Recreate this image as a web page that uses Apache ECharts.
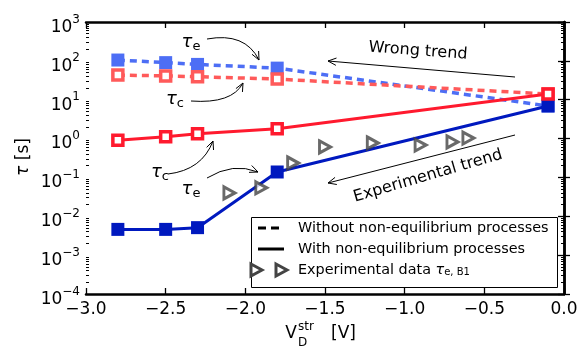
<!DOCTYPE html>
<html>
<head>
<meta charset="utf-8">
<script src="https://cdn.jsdelivr.net/npm/echarts@6/dist/echarts.min.js"></script>
<style>html,body{margin:0;padding:0;background:#fff}#c{width:578px;height:351px}</style>
</head>
<body>
<div id="c"></div>
<script>
// ---- data ----
const xs = [-2.8, -2.5, -2.3, -1.8, -0.1];
const tauE_without = [105, 90, 81, 65, 6.9];
const tauC_without = [43, 41, 39, 34, 14];
const tauC_with = [0.90, 1.12, 1.34, 1.8, 14];
const tauE_with = [0.0046, 0.0046, 0.0051, 0.138, 6.9];
const expX = [-2.1, -1.9, -1.7, -1.5, -1.2, -0.9, -0.7, -0.6];
const expY = [0.040, 0.054, 0.235, 0.61, 0.77, 0.68, 0.82, 1.03];
const xTickValues = [-3.0, -2.5, -2.0, -1.5, -1.0, -0.5, 0.0];
const yTickExps = [-4, -3, -2, -1, 0, 1, 2, 3];

const FONT = 'DejaVu Sans';
const pair = (a, b) => a.map((v, i) => [v, b[i]]);
const yMajor = yTickExps.map(e => Math.pow(10, e));
const yMinor = [];
for (let e = -4; e < 3; e++) for (let m = 2; m <= 9; m++) yMinor.push(m * Math.pow(10, e));

const C_BLUE_L = '#4d6ef5', C_RED_L = '#ff5a5a', C_RED = '#ff1a2e', C_BLUE = '#0019bf', C_GRAY = '#444444';
const tri = 'path://M0,0 L10,5 L0,10 Z';

function baseY(pos, opts) {
  return Object.assign({
    type: 'log', logBase: 10, min: 1e-4, max: 1e3, position: pos,
    axisLine: { show: true, lineStyle: { color: '#000', width: 2.5 } },
    axisTick: { show: true, inside: true, length: 6, lineStyle: { color: '#000', width: 1.3 }, customValues: yMajor },
    axisLabel: { show: false },
    splitLine: { show: false }, minorTick: { show: false }
  }, opts);
}
function minorY(pos) {
  return {
    type: 'log', logBase: 10, min: 1e-4, max: 1e3, position: pos,
    axisLine: { show: false },
    axisTick: { show: true, inside: true, length: 3, lineStyle: { color: '#000', width: 1 }, customValues: yMinor },
    axisLabel: { show: false }, splitLine: { show: false }
  };
}
function baseX(pos, labels) {
  return {
    type: 'value', min: -3, max: 0, interval: 0.5, position: pos,
    axisLine: { show: true, onZero: false, lineStyle: { color: '#000', width: 2.5 } },
    axisTick: { show: true, inside: true, length: 6, lineStyle: { color: '#000', width: 1.3 } },
    axisLabel: labels ? {
      show: true, margin: 7, fontFamily: FONT, fontSize: 17, color: '#000',
      customValues: xTickValues,
      formatter: v => (v < 0 ? '\u2212' : '') + Math.abs(v).toFixed(1)
    } : { show: false },
    splitLine: { show: false }
  };
}

function arrowHead(x, y, fx, fy) {
  const a = Math.atan2(y - fy, x - fx), L = 9, w = 0.42;
  return { type: 'polyline', z: 100, shape: { points: [[x - L * Math.cos(a - w), y - L * Math.sin(a - w)], [x, y], [x - L * Math.cos(a + w), y - L * Math.sin(a + w)]] },
    style: { stroke: '#000', lineWidth: 1, fill: null } };
}
function curveArrow(x1, y1, cx, cy, x2, y2) {
  return [
    { type: 'bezierCurve', z: 100, shape: { x1, y1, x2, y2, cpx1: cx, cpy1: cy }, style: { stroke: '#000', lineWidth: 1, fill: null } },
    arrowHead(x2, y2, cx, cy)
  ];
}
function straightArrow(x1, y1, x2, y2) {
  return [
    { type: 'line', z: 100, shape: { x1, y1, x2, y2 }, style: { stroke: '#000', lineWidth: 1 } },
    arrowHead(x2, y2, x1, y1)
  ];
}
function tauLabel(x, y, sub) {
  return { type: 'text', z: 100, x, y, style: {
    text: '{t|\u03c4}{s|' + sub + '}', align: 'center', verticalAlign: 'middle',
    rich: { t: { fontFamily: FONT, fontStyle: 'italic', fontSize: 18, lineHeight: 22, fill: '#000' },
            s: { fontFamily: FONT, fontSize: 13, lineHeight: 14, verticalAlign: 'bottom', fill: '#000' } }
  } };
}

const graphics = [];
// annotations
graphics.push(tauLabel(191, 42, 'e'));
graphics.push(...curveArrow(207, 39, 245, 32, 259, 60));
graphics.push(tauLabel(175, 99, 'c'));
graphics.push(...curveArrow(191, 101, 232, 104, 243, 83));
graphics.push(tauLabel(160, 172, 'c'));
graphics.push(...curveArrow(168, 174, 202, 170, 213, 141));
graphics.push(tauLabel(191, 189, 'e'));
graphics.push(...curveArrow(207, 178, 233, 162, 258, 172));
graphics.push(...straightArrow(515, 77, 328, 61));
graphics.push(...straightArrow(515, 135, 328, 183));
graphics.push({ type: 'text', z: 100, x: 418, y: 51, rotation: -0.075, style: { text: 'Wrong trend', fontFamily: FONT, fontSize: 16, fill: '#000', align: 'center', verticalAlign: 'middle' } });
graphics.push({ type: 'text', z: 100, x: 428, y: 176, rotation: 0.285, style: { text: 'Experimental trend', fontFamily: FONT, fontSize: 16, fill: '#000', align: 'center', verticalAlign: 'middle' } });
// axis names
graphics.push({ type: 'text', x: 24, y: 157, rotation: Math.PI / 2, style: { text: '{i|\u03c4} [s]', align: 'center', verticalAlign: 'middle',
  rich: { i: { fontFamily: FONT, fontStyle: 'italic', fontSize: 17 } }, fontFamily: FONT, fontSize: 17, fill: '#000' } });
graphics.push({ type: 'text', x: 291, y: 334, style: { text: 'V', fontFamily: FONT, fontSize: 17, fill: '#000', align: 'center', verticalAlign: 'middle' } });
graphics.push({ type: 'text', x: 298, y: 327, style: { text: 'str', fontFamily: FONT, fontSize: 12, fill: '#000', align: 'left', verticalAlign: 'middle' } });
graphics.push({ type: 'text', x: 298, y: 343, style: { text: 'D', fontFamily: FONT, fontSize: 12, fill: '#000', align: 'left', verticalAlign: 'middle' } });
graphics.push({ type: 'text', x: 331, y: 334, style: { text: '[V]', fontFamily: FONT, fontSize: 17, fill: '#000', align: 'left', verticalAlign: 'middle' } });
// legend
graphics.push({ type: 'rect', z: 90, shape: { x: 251.5, y: 217.5, width: 306, height: 70 }, style: { fill: '#fff', stroke: '#000', lineWidth: 1 } });
graphics.push({ type: 'line', z: 91, shape: { x1: 258, y1: 228, x2: 284, y2: 228 }, style: { stroke: '#000', lineWidth: 3, lineDash: [8, 5] } });
graphics.push({ type: 'line', z: 91, shape: { x1: 258, y1: 249, x2: 284, y2: 249 }, style: { stroke: '#000', lineWidth: 3 } });
[256, 281].forEach(cx => graphics.push({ type: 'polygon', z: 91, shape: { points: [[cx - 5, 264], [cx + 6, 270], [cx - 5, 276]] }, style: { fill: '#fff', stroke: C_GRAY, lineWidth: 3 } }));
const legText = (y, t) => ({ type: 'text', z: 91, x: 298, y, style: { text: t, fontFamily: FONT, fontSize: 14.4, fill: '#000', align: 'left', verticalAlign: 'middle',
  rich: { i: { fontFamily: FONT, fontStyle: 'italic', fontSize: 14.4 }, s: { fontFamily: FONT, fontSize: 10, verticalAlign: 'bottom', lineHeight: 12 } } } });
graphics.push(legText(228, 'Without non-equilibrium processes'));
graphics.push(legText(249, 'With non-equilibrium processes'));
graphics.push(legText(270, 'Experimental data {i|\u03c4}{s|e, B1}'));

const chart = echarts.init(document.getElementById('c'), null, { renderer: 'canvas' });
chart.setOption({
  animation: false,
  backgroundColor: '#fff',
  grid: { left: 86, right: 14, top: 22, bottom: 57, containLabel: false, outerBoundsMode: 'none' },
  xAxis: [baseX('bottom', true), baseX('top', false)],
  yAxis: [
    baseY('left', { axisLabel: {
      show: true, margin: 6, customValues: yMajor, padding: [11, 0, 0, 0],
      formatter: v => { const e = Math.round(Math.log10(v)); return '{b|10}{s|' + (e < 0 ? '\u2212' + (-e) : e) + '}'; },
      rich: { b: { fontFamily: FONT, fontSize: 17, lineHeight: 28, color: '#000' },
              s: { fontFamily: FONT, fontSize: 12, lineHeight: 12, verticalAlign: 'top', color: '#000' } }
    } }),
    baseY('right', {}),
    minorY('left'),
    minorY('right')
  ],
  series: [
    { name: 'tauE_without', type: 'line', data: pair(xs, tauE_without), symbol: 'rect', symbolSize: 13,
      lineStyle: { color: C_BLUE_L, width: 3.5, type: [7, 5] }, itemStyle: { color: C_BLUE_L }, z: 2 },
    { name: 'tauC_without', type: 'line', data: pair(xs, tauC_without), symbol: 'rect', symbolSize: 10,
      lineStyle: { color: C_RED_L, width: 3.5, type: [7, 5] }, itemStyle: { color: '#fff', borderColor: C_RED_L, borderWidth: 3.5 }, z: 3 },
    { name: 'tauE_with', type: 'line', data: pair(xs, tauE_with), symbol: 'rect', symbolSize: 13,
      lineStyle: { color: C_BLUE, width: 3 }, itemStyle: { color: C_BLUE }, z: 4 },
    { name: 'tauC_with', type: 'line', data: pair(xs, tauC_with), symbol: 'rect', symbolSize: 10,
      lineStyle: { color: C_RED, width: 3 }, itemStyle: { color: '#fff', borderColor: C_RED, borderWidth: 3.5 }, z: 5 },
    { name: 'experimental', type: 'scatter', data: pair(expX, expY), symbol: tri, symbolSize: [11, 12],
      itemStyle: { color: '#fff', borderColor: C_GRAY, borderWidth: 3 }, z: 6 }
  ],
  graphic: graphics
});
</script>
</body>
</html>
